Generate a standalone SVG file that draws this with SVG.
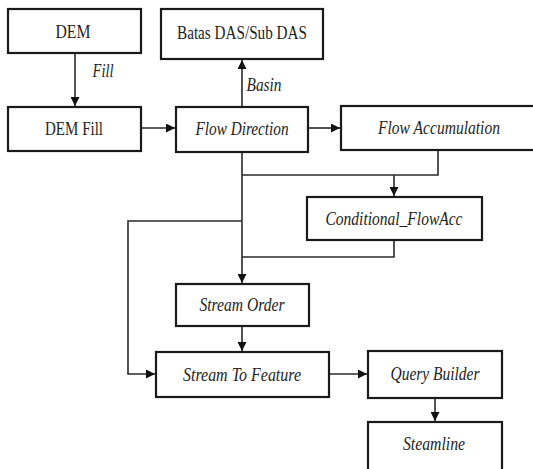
<svg xmlns="http://www.w3.org/2000/svg" width="533" height="469" viewBox="0 0 533 469">
<style>
.box{fill:#fff;stroke:#1a1a1a;stroke-width:2.2}
.t{font-family:"Liberation Serif","Times New Roman",serif;font-size:19px;fill:#1e1e1e;text-anchor:middle}
.i{font-style:italic}
.c{fill:none;stroke:#2a2a2a;stroke-width:1.6}
</style>
<defs>
<marker id="ah" viewBox="0 0 10 10" refX="10" refY="5" markerWidth="10" markerHeight="9" markerUnits="userSpaceOnUse" orient="auto">
<path d="M0,0 L10,5 L0,10 z" fill="#111"/>
</marker>
</defs>
<rect width="533" height="469" fill="#fff"/>
<g id="connectors">
<path class="c" d="M75,53 V106" marker-end="url(#ah)"/>
<path class="c" d="M141,128 H175" marker-end="url(#ah)"/>
<path class="c" d="M242,107 V60" marker-end="url(#ah)"/>
<path class="c" d="M308,128 H340" marker-end="url(#ah)"/>
<path class="c" d="M242,152 V283" marker-end="url(#ah)"/>
<path class="c" d="M438,150 V175 H242"/>
<path class="c" d="M394,175 V196" marker-end="url(#ah)"/>
<path class="c" d="M394,240 V257 H242"/>
<path class="c" d="M242,221 H128 V374 H155" marker-end="url(#ah)"/>
<path class="c" d="M242,326 V351" marker-end="url(#ah)"/>
<path class="c" d="M329,374 H367" marker-end="url(#ah)"/>
<path class="c" d="M435,398 V421" marker-end="url(#ah)"/>
<text class="t i" x="103" y="77" textLength="21" lengthAdjust="spacingAndGlyphs">Fill</text>
<text class="t i" x="264" y="91" textLength="35" lengthAdjust="spacingAndGlyphs">Basin</text>
</g>
<g id="dem"><rect class="box" x="8" y="9" width="133" height="44"/><text class="t" x="73" y="38" textLength="35" lengthAdjust="spacingAndGlyphs">DEM</text></g>
<g id="demfill"><rect class="box" x="8" y="107" width="133" height="44"/><text class="t" x="74" y="135" textLength="58" lengthAdjust="spacingAndGlyphs">DEM Fill</text></g>
<g id="batas"><rect class="box" x="161" y="9" width="162" height="50"/><text class="t" x="242" y="39" textLength="130" lengthAdjust="spacingAndGlyphs">Batas DAS/Sub DAS</text></g>
<g id="flowdir"><rect class="box" x="176" y="107" width="132" height="45"/><text class="t i" x="242" y="135" textLength="93" lengthAdjust="spacingAndGlyphs">Flow Direction</text></g>
<g id="flowacc"><rect class="box" x="341" y="106" width="200" height="44"/><text class="t i" x="439" y="134" textLength="122" lengthAdjust="spacingAndGlyphs">Flow Accumulation</text></g>
<g id="condflow"><rect class="box" x="307" y="197" width="175" height="43"/><text class="t i" x="394" y="225" textLength="137" lengthAdjust="spacingAndGlyphs">Conditional_FlowAcc</text></g>
<g id="streamorder"><rect class="box" x="176" y="284" width="133" height="42"/><text class="t i" x="242" y="311" textLength="85" lengthAdjust="spacingAndGlyphs">Stream Order</text></g>
<g id="streamtofeature"><rect class="box" x="156" y="352" width="173" height="45"/><text class="t i" x="242" y="381" textLength="118" lengthAdjust="spacingAndGlyphs">Stream To Feature</text></g>
<g id="querybuilder"><rect class="box" x="368" y="351" width="134" height="47"/><text class="t i" x="435" y="380" textLength="89" lengthAdjust="spacingAndGlyphs">Query Builder</text></g>
<g id="steamline"><rect class="box" x="368" y="422" width="134" height="50"/><text class="t i" x="434" y="450" textLength="62" lengthAdjust="spacingAndGlyphs">Steamline</text></g>
</svg>
